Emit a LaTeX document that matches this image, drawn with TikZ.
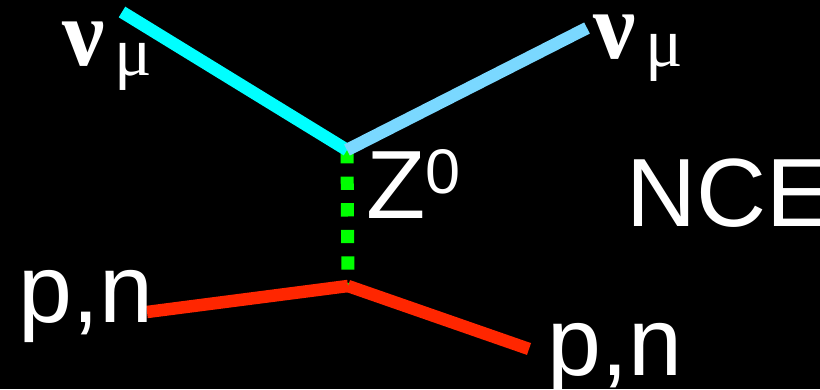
\documentclass[tikz,border=0pt]{standalone}
\usepackage{fontspec}
\setmainfont{Liberation Serif}
\setsansfont{Liberation Sans}
\usepackage{tikz}
\usepackage{xcolor}

\definecolor{nucyan}{RGB}{0,255,255}
\definecolor{nublue}{RGB}{122,216,255}
\definecolor{zgreen}{RGB}{0,255,0}
\definecolor{hadred}{RGB}{255,38,0}

\begin{document}
\begin{tikzpicture}[
      x=1pt, y=-1pt,
      leg/.style={line width=12.5pt},
      txt/.style={text=white, inner sep=0pt, anchor=base west,
        font=\sffamily\fontsize{97}{97}\selectfont},
      greektxt/.style={text=white, inner sep=0pt, anchor=base west,
        font=\rmfamily\fontsize{95}{95}\selectfont}
  ]
    % --- background ---
    \fill[black] (0,0) rectangle (820,389);
    \clip (0,0) rectangle (820,389);

    % --- vertices and free ends ---
    \coordinate (vtop)   at (347,150);
    \coordinate (vbot)   at (348,286);
    \coordinate (nuin)   at (122,12);
    \coordinate (nuout)  at (587,28);
    \coordinate (hadin)  at (147,312);
    \coordinate (hadout) at (529,349);

    % --- Z0 exchange (dashed) ---
    \draw[leg, zgreen, line width=13pt, dash pattern=on 13.3pt off 13.3pt]
      (vtop) -- (vbot);

    % --- neutrino legs ---
    \draw[leg, nucyan] (nuin) -- (vtop);
    \draw[leg, nublue] (vtop) -- (nuout);

    % --- hadron legs ---
    \draw[leg, hadred] (hadin) -- (vbot);
    \draw[leg, hadred] (vbot) -- (hadout);

    % --- labels ---
    \node[greektxt] (nuinlbl) at (62,65)
      {\textbf{ν}\hspace{10pt}\raisebox{-10pt}{\fontsize{70}{70}\selectfont μ}};
    \node[greektxt] (nuoutlbl) at (593,58)
      {\textbf{ν}\hspace{10pt}\raisebox{-8pt}{\fontsize{70}{70}\selectfont μ}};
    \node[txt] (zlbl) at (366,218)
      {Z\raisebox{25pt}{\fontsize{63}{63}\selectfont 0}};
    \node[txt] (ncelbl) at (626,226) {NCE};
    \node[txt] (hadinlbl) at (18,322) {p,n};
    \node[txt] (hadoutlbl) at (547,375) {p,n};

  \end{tikzpicture}
\end{document}
